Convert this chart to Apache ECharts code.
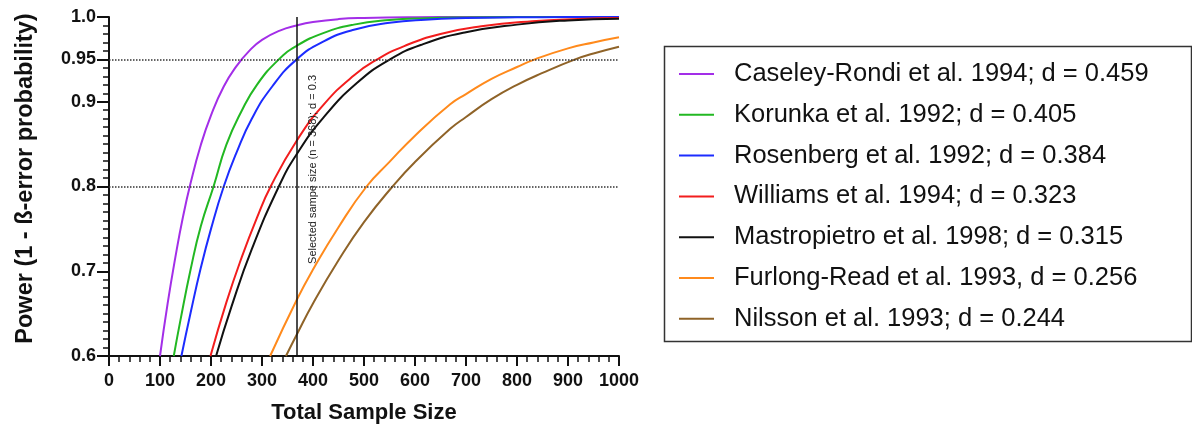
<!DOCTYPE html>
<html>
<head>
<meta charset="utf-8">
<script src="https://cdn.jsdelivr.net/npm/echarts@6/dist/echarts.min.js"></script>
<style>
  html, body { margin: 0; padding: 0; background: #fff; }
  #chart { width: 1192px; height: 432px; }
</style>
</head>
<body>
<div id="chart"></div>
<script>
// 各研究的功效曲线 (总样本量 -> 功效)
const studyNames = [
  'Caseley-Rondi et al. 1994; d = 0.459',
  'Korunka et al. 1992; d = 0.405',
  'Rosenberg et al. 1992; d = 0.384',
  'Williams et al. 1994; d = 0.323',
  'Mastropietro et al. 1998; d = 0.315',
  'Furlong-Read et al. 1993, d = 0.256',
  'Nilsson et al. 1993; d = 0.244'
];
const studyColors = ['#a32ee8', '#22b822', '#1c2cff', '#f21d1d', '#111111', '#ff8a1c', '#8f6328'];

const caseleyN = [100, 115, 130, 145, 160, 180, 200, 225, 250, 275, 300, 335, 368, 400, 450, 500, 600, 700, 1000];
const caseleyP = [0.600, 0.662, 0.716, 0.764, 0.804, 0.849, 0.884, 0.918, 0.942, 0.960, 0.973, 0.984, 0.990, 0.994, 0.9975, 0.9989, 0.9998, 1.0, 1.0];

const korunkaN = [127, 140, 160, 180, 205, 230, 260, 290, 333, 368, 420, 480, 550, 620, 700, 800, 1000];
const korunkaP = [0.600, 0.642, 0.702, 0.753, 0.800, 0.849, 0.889, 0.920, 0.950, 0.966, 0.981, 0.991, 0.9964, 0.9986, 0.9995, 0.9999, 1.0];

const rosenbergN = [142, 160, 180, 200, 225, 250, 280, 320, 368, 420, 480, 550, 620, 700, 800, 900, 1000];
const rosenbergP = [0.600, 0.651, 0.704, 0.750, 0.800, 0.840, 0.880, 0.918, 0.950, 0.971, 0.985, 0.9931, 0.9969, 0.9988, 0.9996, 0.9999, 1.0];

const williamsN = [199, 230, 260, 290, 317, 368, 420, 480, 526, 580, 650, 730, 830, 920, 1000];
const williamsP = [0.600, 0.663, 0.716, 0.763, 0.800, 0.854, 0.896, 0.931, 0.950, 0.966, 0.980, 0.989, 0.995, 0.9976, 0.9987];

const mastroN = [210, 240, 280, 333, 368, 420, 486, 551, 616, 700, 800, 900, 1000];
const mastroP = [0.600, 0.658, 0.726, 0.800, 0.838, 0.881, 0.922, 0.950, 0.968, 0.982, 0.991, 0.996, 0.998];

const furlongN = [316, 368, 400, 450, 505, 550, 600, 669, 700, 750, 800, 835, 900, 950, 1000];
const furlongP = [0.600, 0.666, 0.702, 0.752, 0.800, 0.829, 0.860, 0.897, 0.909, 0.927, 0.941, 0.950, 0.963, 0.970, 0.976];

const nilssonN = [347, 368, 400, 450, 500, 556, 600, 669, 700, 750, 800, 850, 914, 950, 1000];
const nilssonP = [0.600, 0.625, 0.662, 0.713, 0.758, 0.800, 0.829, 0.868, 0.882, 0.903, 0.920, 0.934, 0.950, 0.957, 0.965];

const studyN = [caseleyN, korunkaN, rosenbergN, williamsN, mastroN, furlongN, nilssonN];
const studyP = [caseleyP, korunkaP, rosenbergP, williamsP, mastroP, furlongP, nilssonP];

// 参考线
const refPower = [0.95, 0.8];
const selectedN = 368;
const selectedLabel = 'Selected sampe size (n = 368); d = 0.3';

// 坐标轴刻度
const yTickValues = [0.6, 0.7, 0.8, 0.9, 0.95, 1.0];

const FONT = '"Liberation Sans", Arial, sans-serif';

let myChart = echarts.init(document.getElementById('chart'));

let series = studyNames.map((name, k) => ({
  name: name,
  type: 'line',
  data: studyN[k].map((n, i) => [n, studyP[k][i]]),
  color: studyColors[k],
  showSymbol: false,
  symbol: 'none',
  smooth: 0.5,
  clip: false,
  lineStyle: { width: 2, color: studyColors[k] },
  z: 3
}));

// 虚线和竖线
series.push({
  name: 'refs',
  type: 'line',
  data: [],
  markLine: {
    silent: true,
    symbol: 'none',
    animation: false,
    data: [
      ...refPower.map(v => ({
        yAxis: v,
        lineStyle: { type: 'dotted', color: '#333', width: 1.5 },
        label: { show: false }
      })),
      {
        xAxis: selectedN,
        lineStyle: { type: 'solid', color: '#111', width: 1.5 },
        label: {
          show: true,
          formatter: selectedLabel,
          position: 'insideEndBottom',
          distance: [58, 11],
          fontSize: 11,
          fontFamily: FONT,
          color: '#222'
        }
      }
    ]
  }
});

let option = {
  animation: false,
  grid: { left: 109, right: 573, top: 17, bottom: 76, containLabel: false },
  xAxis: {
    type: 'value',
    min: 0,
    max: 1000,
    interval: 100,
    name: 'Total Sample Size',
    nameLocation: 'middle',
    nameGap: 46,
    nameTextStyle: { fontSize: 22, fontWeight: 'bold', color: '#111', fontFamily: FONT },
    axisLine: { show: true, lineStyle: { color: '#111', width: 2 } },
    axisTick: { show: true, length: 10, lineStyle: { color: '#111', width: 2 } },
    minorTick: { show: true, splitNumber: 5, length: 6, lineStyle: { color: '#111', width: 1.5 } },
    splitLine: { show: false },
    axisLabel: {
      fontSize: 18, fontWeight: 'bold', color: '#111', fontFamily: FONT, margin: 16,
      formatter: v => String(v)
    }
  },
  yAxis: [
    {
      type: 'value',
      min: 0.6,
      max: 1.0,
      interval: 0.05,
      name: 'Power (1 - ß-error probability)',
      nameLocation: 'middle',
      nameGap: 71,
      nameTextStyle: { fontSize: 23.5, fontWeight: 'bold', color: '#111', fontFamily: FONT, padding: [0, 0, 0, 16] },
      axisLine: { show: true, lineStyle: { color: '#111', width: 2 } },
      axisTick: { show: true, customValues: yTickValues, length: 12, lineStyle: { color: '#111', width: 2 } },
      splitLine: { show: false },
      axisLabel: {
        customValues: yTickValues,
        fontSize: 18,
        fontWeight: 'bold',
        color: '#111',
        fontFamily: FONT,
        margin: 13,
        formatter: v => (v === 1 ? '1.0' : String(v))
      }
    },
    {
      // 小刻度 (每 0.01)
      type: 'value',
      min: 0.6,
      max: 1.0,
      interval: 0.01,
      position: 'left',
      axisLine: { show: false },
      axisTick: { show: true, length: 6, lineStyle: { color: '#111', width: 1.5 } },
      axisLabel: { show: false },
      splitLine: { show: false }
    }
  ],
  legend: {
    data: studyNames,
    orient: 'vertical',
    left: 679,
    top: 61,
    padding: 0,
    itemGap: 14.8,
    itemWidth: 35,
    itemHeight: 2,
    icon: 'rect',
    textStyle: { fontSize: 25.5, lineHeight: 25.5, color: '#111', fontFamily: FONT, padding: [0, 0, 0, 15] }
  },
  graphic: [
    {
      type: 'rect',
      left: 662,
      top: 44,
      shape: { width: 527, height: 295 },
      style: { fill: 'none', stroke: '#333', lineWidth: 1.5 },
      silent: true
    }
  ],
  series: series
};

myChart.setOption(option);
</script>
</body>
</html>
